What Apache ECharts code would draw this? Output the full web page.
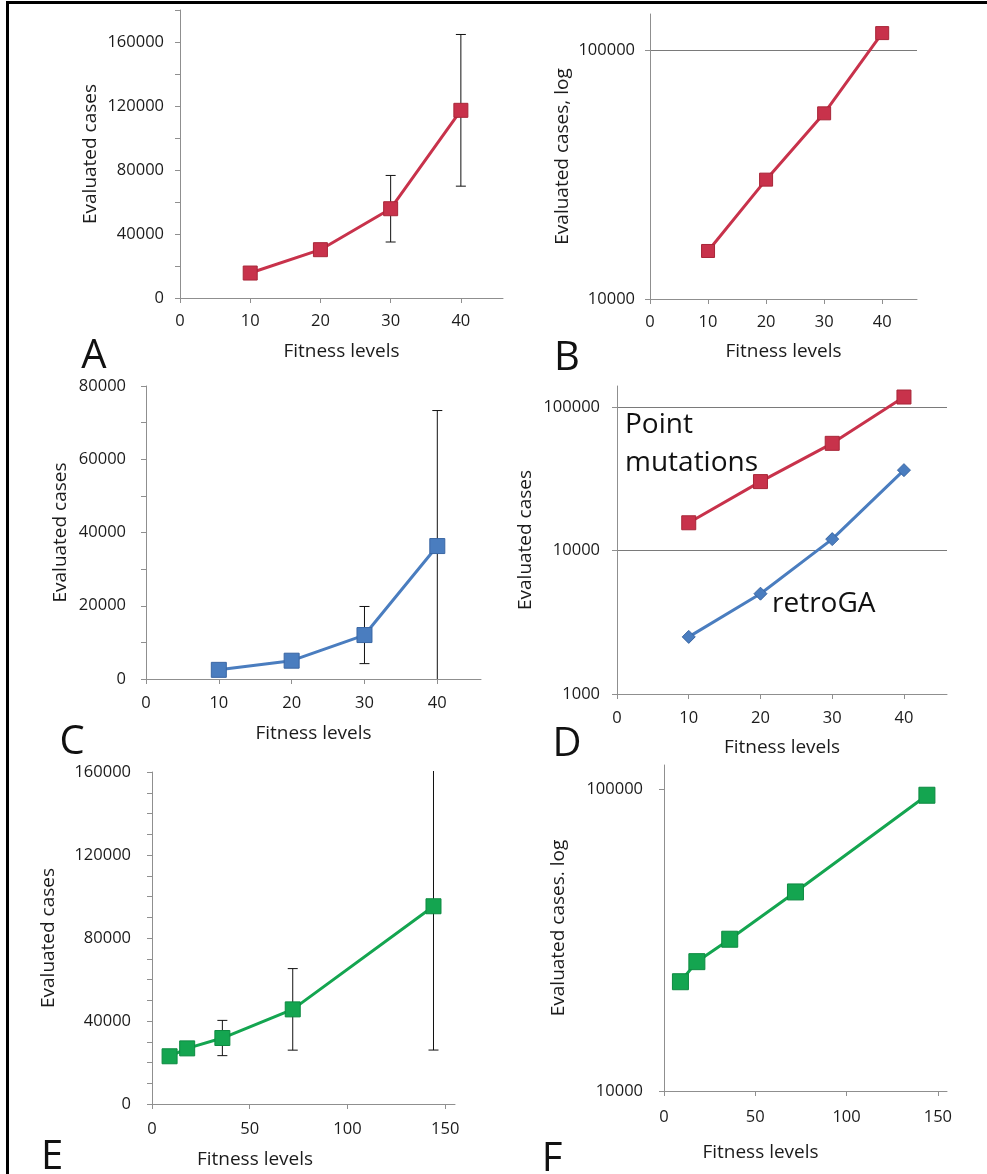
<!DOCTYPE html>
<html>
<head>
<meta charset="utf-8">
<title>Evaluated cases vs fitness levels</title>
<script src="https://cdn.jsdelivr.net/npm/echarts@6/dist/echarts.min.js"></script>
<style>
  html, body { margin: 0; padding: 0; background: #fff; }
  #chart { width: 987px; height: 1174px; }
</style>
</head>
<body>
<div id="chart"></div>
<script>
// fitness levels (x) for panels A-D and for E-F
var fitLevels = [10, 20, 30, 40];
var fitLevelsLong = [9, 18, 36, 72, 144];

// point mutations (red), panels A, B, D
var pointCases = [15600, 30200, 55800, 117300];
var pointSd = [0, 0, 20800, 47400];

// retroGA (blue), panels C, D
var retroCases = [2500, 5000, 12000, 36300];
var retroSd = [0, 0, 7800, 37000];

// longer runs (green), panels E, F
var longCases = [23000, 26800, 31800, 45600, 95300];
var longSd = [0, 0, 8500, 19650, 69300];

// tick labels
var xTicksShort = [0, 10, 20, 30, 40];
var xTicksLong = [0, 50, 100, 150];
var yTicksA = [0, 40000, 80000, 120000, 160000];
var yTicksC = [0, 20000, 40000, 60000, 80000];
var yTicksE = [0, 40000, 80000, 120000, 160000];
var yTicksLog = [10000, 100000];
var yTicksLogD = [1000, 10000, 100000];

var FONT = "'Open Sans', sans-serif";
var AXIS_COLOR = '#8f8f8f';
var TEXT_COLOR = '#1b1b1b';
var RED = '#c8324b', RED_DARK = '#a82638';
var BLUE = '#4a7dbf', BLUE_DARK = '#3a66a3';
var GREEN = '#14a550', GREEN_DARK = '#0d8a40';

function plain(v) { return String(v); }

function pairs(xs, ys) {
  return xs.map(function (x, i) { return [x, ys[i]]; });
}

function xAxis(grid, max, ticks, gap, margin, namePad) {
  return {
    type: 'value', gridIndex: grid, min: 0, max: max,
    name: 'Fitness levels', nameLocation: 'middle', nameGap: gap,
    nameTextStyle: { fontFamily: FONT, fontSize: 19, color: TEXT_COLOR, padding: namePad || 0 },
    axisLine: { show: true, lineStyle: { color: AXIS_COLOR } },
    axisTick: { show: true, length: 5, customValues: ticks, lineStyle: { color: AXIS_COLOR } },
    axisLabel: { customValues: ticks, margin: margin, formatter: plain, fontFamily: FONT, fontSize: 16.5, color: TEXT_COLOR },
    splitLine: { show: false }
  };
}

function yAxis(grid, o) {
  var ax = {
    type: o.log ? 'log' : 'value', gridIndex: grid, min: o.min, max: o.max,
    name: o.name, nameLocation: 'middle', nameGap: o.gap,
    nameTextStyle: { fontFamily: FONT, fontSize: 19, color: TEXT_COLOR },
    axisLine: { show: true, lineStyle: { color: AXIS_COLOR } },
    axisTick: { show: true, length: 5, lineStyle: { color: AXIS_COLOR } },
    axisLabel: { customValues: o.labels, margin: o.margin, formatter: plain, fontFamily: FONT, fontSize: 16.5, color: TEXT_COLOR },
    splitLine: { show: !!o.lines, lineStyle: { color: '#7a7a7a', width: 1 } }
  };
  if (o.log) {
    ax.logBase = 10;
    ax.axisTick.customValues = o.labels;
  } else {
    ax.interval = o.interval;
  }
  return ax;
}

function lineSeries(idx, xs, ys, color, border, symbol, size) {
  return {
    type: 'line', xAxisIndex: idx, yAxisIndex: idx, z: 3, silent: true,
    data: pairs(xs, ys),
    symbol: symbol, symbolSize: size, showSymbol: true,
    lineStyle: { color: color, width: 3 },
    itemStyle: { color: color, borderColor: border, borderWidth: 1 }
  };
}

function errorSeries(idx, xs, means, sds) {
  var data = [];
  for (var i = 0; i < xs.length; i++) {
    if (sds[i] > 0) data.push([xs[i], means[i] - sds[i], means[i] + sds[i]]);
  }
  return {
    type: 'custom', xAxisIndex: idx, yAxisIndex: idx, z: 1, silent: true,
    data: data,
    encode: { x: 0, y: [1, 2] },
    renderItem: function (params, api) {
      var lo = api.coord([api.value(0), api.value(1)]);
      var hi = api.coord([api.value(0), api.value(2)]);
      var cs = params.coordSys;
      var w = 5;
      var style = { stroke: '#111', lineWidth: 1 };
      return {
        type: 'group',
        clipPath: { type: 'rect', shape: { x: cs.x, y: cs.y - 1, width: cs.width, height: cs.height + 1 } },
        children: [
          { type: 'line', shape: { x1: lo[0], y1: lo[1], x2: hi[0], y2: hi[1] }, style: style },
          { type: 'line', shape: { x1: hi[0] - w, y1: hi[1], x2: hi[0] + w, y2: hi[1] }, style: style },
          { type: 'line', shape: { x1: lo[0] - w, y1: lo[1], x2: lo[0] + w, y2: lo[1] }, style: style }
        ]
      };
    }
  };
}

function letter(t, x, y) {
  return { type: 'text', x: x, y: y, silent: true,
    style: { text: t, font: '40px ' + FONT, fill: '#111', textAlign: 'center', textVerticalAlign: 'middle' } };
}

function note(t, x, y) {
  return { type: 'text', x: x, y: y, silent: true,
    style: { text: t, font: '28px ' + FONT, fill: '#111', textAlign: 'left', textVerticalAlign: 'middle' } };
}

var chart = echarts.init(document.getElementById('chart'));

chart.setOption({
  backgroundColor: '#fff',
  animation: false,
  grid: [
    { left: 180, top: 10, width: 323, height: 288, outerBoundsMode: 'none' },
    { left: 650, top: 14, width: 267, height: 285, outerBoundsMode: 'none' },
    { left: 146, top: 386, width: 335, height: 293, outerBoundsMode: 'none' },
    { left: 617, top: 386, width: 330, height: 308, outerBoundsMode: 'none' },
    { left: 152, top: 772, width: 303, height: 332, outerBoundsMode: 'none' },
    { left: 664, top: 765, width: 283, height: 326, outerBoundsMode: 'none' }
  ],
  xAxis: [
    xAxis(0, 46, xTicksShort, 44, 15),
    xAxis(1, 46, xTicksShort, 43, 15),
    xAxis(2, 46, xTicksShort, 45, 16),
    xAxis(3, 46, xTicksShort, 44, 16),
    xAxis(4, 155, xTicksLong, 46, 17, [0, 97, 0, 0]),
    xAxis(5, 155, xTicksLong, 52, 18, [0, 90, 0, 0])
  ],
  yAxis: [
    yAxis(0, { name: 'Evaluated cases', min: 0, max: 180000, interval: 20000, labels: yTicksA, gap: 80, margin: 16 }),
    yAxis(1, { name: 'Evaluated cases, log', log: true, min: 10000, max: 140000, labels: yTicksLog, gap: 78, margin: 15, lines: true }),
    yAxis(2, { name: 'Evaluated cases', min: 0, max: 80000, interval: 10000, labels: yTicksC, gap: 76, margin: 20 }),
    yAxis(3, { name: 'Evaluated cases', log: true, min: 1000, max: 140000, labels: yTicksLogD, gap: 82, margin: 17, lines: true }),
    yAxis(4, { name: 'Evaluated cases', min: 0, max: 160000, interval: 10000, labels: yTicksE, gap: 94, margin: 21 }),
    yAxis(5, { name: 'Evaluated cases. log', log: true, min: 10000, max: 120000, labels: yTicksLog, gap: 96, margin: 21 })
  ],
  series: [
    errorSeries(0, fitLevels, pointCases, pointSd),
    lineSeries(0, fitLevels, pointCases, RED, RED_DARK, 'rect', 14),
    lineSeries(1, fitLevels, pointCases, RED, RED_DARK, 'rect', 13),
    errorSeries(2, fitLevels, retroCases, retroSd),
    lineSeries(2, fitLevels, retroCases, BLUE, BLUE_DARK, 'rect', 15),
    lineSeries(3, fitLevels, pointCases, RED, RED_DARK, 'rect', 14),
    lineSeries(3, fitLevels, retroCases, BLUE, BLUE_DARK, 'diamond', 13),
    errorSeries(4, fitLevelsLong, longCases, longSd),
    lineSeries(4, fitLevelsLong, longCases, GREEN, GREEN_DARK, 'rect', 15),
    lineSeries(5, fitLevelsLong, longCases, GREEN, GREEN_DARK, 'rect', 16)
  ],
  graphic: [
    { type: 'rect', silent: true, shape: { x: 6, y: 1, width: 981, height: 3 }, style: { fill: '#000' } },
    { type: 'rect', silent: true, shape: { x: 6, y: 1, width: 3, height: 1173 }, style: { fill: '#000' } },
    letter('A', 94, 357),
    letter('B', 567, 359),
    letter('C', 72, 743),
    letter('D', 567, 745),
    letter('E', 52, 1158),
    letter('F', 552, 1160),
    note('Point', 625, 425),
    note('mutations', 625, 463),
    note('retroGA', 772, 604)
  ]
});
</script>
</body>
</html>
